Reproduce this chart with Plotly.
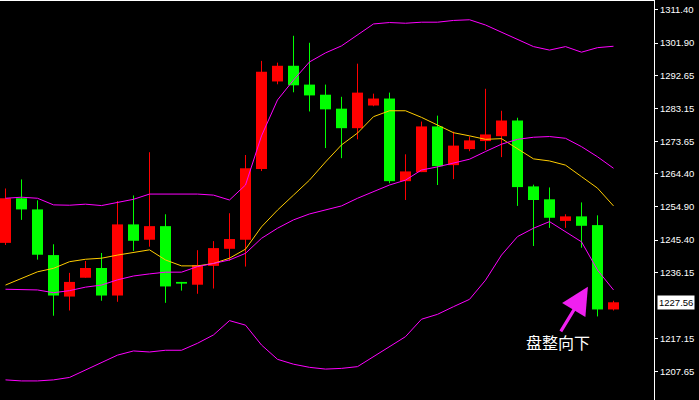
import plotly.graph_objects as go

# ---- data ----
opens = [1244.6, 1257.4, 1254.2, 1241.1, 1229.2, 1234.6, 1237.4, 1229.5, 1249.9, 1245.5,
         1249.4, 1233.4, 1232.6, 1238.0, 1242.9, 1245.5, 1265.8, 1290.9, 1295.4, 1290.0,
         1287.1, 1283.1, 1277.5, 1284.0, 1286.0, 1262.3, 1264.9, 1278.0, 1266.9, 1271.5,
         1273.8, 1275.2, 1279.7, 1260.8, 1257.1, 1250.9, 1252.2, 1249.7, 1225.5]
highs = [1260.2, 1262.8, 1256.8, 1244.2, 1236.0, 1239.4, 1241.7, 1256.6, 1258.2, 1270.6,
         1252.8, 1233.4, 1242.5, 1245.1, 1253.1, 1269.8, 1296.8, 1296.3, 1304.0, 1302.0,
         1290.0, 1286.5, 1296.0, 1287.4, 1287.7, 1270.0, 1279.4, 1281.1, 1276.5, 1275.1,
         1288.8, 1282.5, 1280.5, 1261.3, 1260.5, 1252.8, 1256.2, 1252.5, 1228.0]
lows = [1244.0, 1251.2, 1239.8, 1223.7, 1225.2, 1234.6, 1228.0, 1227.7, 1242.3, 1243.5,
        1227.4, 1230.9, 1230.0, 1231.5, 1239.5, 1237.8, 1265.2, 1290.1, 1287.8, 1282.3,
        1271.8, 1268.9, 1274.3, 1283.8, 1261.7, 1256.9, 1264.9, 1261.2, 1262.9, 1270.9,
        1271.2, 1269.2, 1255.2, 1243.7, 1248.9, 1248.9, 1243.2, 1223.5, 1225.2]
closes = [1257.4, 1254.2, 1241.2, 1229.5, 1233.4, 1237.4, 1229.5, 1249.9, 1245.2, 1249.4,
          1232.1, 1232.9, 1238.2, 1243.1, 1245.7, 1266.0, 1293.7, 1295.4, 1289.8, 1286.9,
          1282.9, 1277.5, 1287.7, 1286.0, 1262.3, 1265.1, 1278.0, 1266.6, 1272.5, 1274.0,
          1275.7, 1279.7, 1260.6, 1256.9, 1251.8, 1252.2, 1249.5, 1225.5, 1227.56]

boll_upper = [1257.4, 1257.7, 1257.4, 1255.5, 1255.4, 1255.7, 1255.3, 1256.1, 1257.1, 1258.6,
              1258.6, 1258.6, 1258.6, 1258.3, 1256.9, 1261.2, 1275.3, 1285.6, 1291.3, 1296.5,
              1299.1, 1301.1, 1304.2, 1307.4, 1307.8, 1307.6, 1307.9, 1307.9, 1308.4, 1308.6,
              1307.1, 1305.0, 1303.0, 1300.9, 1299.9, 1300.9, 1299.3, 1300.6, 1301.0]
boll_mid = [1231.3, 1231.3, 1231.1, 1230.3, 1230.9, 1231.9, 1232.5, 1234.0, 1235.1, 1235.7,
            1236.2, 1236.2, 1237.8, 1238.7, 1239.7, 1241.6, 1245.9, 1248.8, 1251.2, 1252.9,
            1254.0, 1255.2, 1257.4, 1259.3, 1261.2, 1262.6, 1265.5, 1266.4, 1267.6, 1268.6,
            1270.8, 1272.9, 1274.3, 1274.9, 1275.1, 1274.6, 1272.2, 1269.3, 1266.0]
boll_lower = [1205.3, 1205.0, 1205.0, 1205.3, 1206.0, 1208.1, 1210.1, 1212.4, 1213.6, 1213.3,
              1213.8, 1213.8, 1215.8, 1218.2, 1222.3, 1221.0, 1215.3, 1211.2, 1209.8, 1208.9,
              1208.4, 1208.6, 1209.1, 1211.9, 1214.8, 1217.7, 1222.7, 1224.1, 1226.3, 1228.4,
              1233.9, 1241.1, 1246.4, 1248.8, 1250.7, 1247.8, 1244.9, 1236.8, 1231.1]
ma_yellow = [1232.5, 1234.4, 1236.3, 1237.3, 1239.2, 1239.9, 1240.2, 1241.1, 1241.9, 1242.6,
             1239.7, 1238.0, 1238.0, 1238.7, 1240.2, 1242.8, 1249.2, 1254.0, 1258.3, 1262.6,
             1267.8, 1272.7, 1276.1, 1280.8, 1282.5, 1282.5, 1280.6, 1278.4, 1276.2, 1275.3,
             1274.3, 1274.5, 1271.7, 1268.7, 1268.1, 1266.9, 1263.6, 1260.3, 1255.2]

tick_vals = [1311.40, 1301.90, 1292.65, 1283.15, 1273.65, 1264.40, 1254.90,
             1245.40, 1236.15, 1217.15, 1207.65]
tick_text = ["1311.40", "1301.90", "1292.65", "1283.15", "1273.65", "1264.40", "1254.90",
             "1245.40", "1236.15", "1217.15", "1207.65"]
last_price = 1227.56
note_text = "盘整向下"

# ---- styling ----
UP = "#FF0000"     # rising candles (red)
DOWN = "#00FF00"   # falling candles (green)
MAGENTA = "#FF00FF"
YELLOW = "#FFCC00"

n = len(opens)
idx = list(range(n))

body_base = [min(o, c) for o, c in zip(opens, closes)]
body_h = [max(abs(c - o), 0.45) for o, c in zip(opens, closes)]
body_col = [UP if c >= o else DOWN for o, c in zip(opens, closes)]

fig = go.Figure()

# wicks
for col in (UP, DOWN):
    wx, wy = [], []
    for i in idx:
        if body_col[i] == col:
            wx += [i, i, None]
            wy += [lows[i], highs[i], None]
    fig.add_trace(go.Scatter(x=wx, y=wy, mode="lines",
                             line=dict(color=col, width=1), hoverinfo="skip",
                             showlegend=False))

# bodies
fig.add_trace(go.Bar(x=idx, y=body_h, base=body_base, width=0.6875,
                     marker=dict(color=body_col, line=dict(width=0)),
                     hoverinfo="skip", showlegend=False))

# indicator lines
for series, col in ((ma_yellow, YELLOW), (boll_upper, MAGENTA),
                    (boll_mid, MAGENTA), (boll_lower, MAGENTA)):
    fig.add_trace(go.Scatter(x=idx, y=series, mode="lines",
                             line=dict(color=col, width=1), hoverinfo="skip",
                             showlegend=False))

# annotation: arrow + text
arrow_tip_x, arrow_tip_y = 36.4, 1232.0
fig.add_annotation(x=arrow_tip_x, y=arrow_tip_y, ax=-28, ay=46, text="",
                   showarrow=True, arrowhead=2, arrowsize=1.7, arrowwidth=3.2,
                   arrowcolor="#F020F0")
fig.add_annotation(x=34.53, y=1216.2, text=note_text, showarrow=False,
                   font=dict(family="Noto Sans CJK SC", size=16, color="white"))

# current price label
fig.add_annotation(xref="paper", x=1, y=last_price, xanchor="left", xshift=3,
                   text=f"{last_price:.2f}", showarrow=False,
                   bgcolor="white", borderpad=1,
                   font=dict(family="Liberation Sans", size=9.5, color="black"))

fig.update_layout(
    width=699, height=400,
    margin=dict(l=0, r=45, t=1, b=0, autoexpand=False),
    paper_bgcolor="black", plot_bgcolor="black",
    barmode="overlay", hovermode=False, showlegend=False,
    xaxis=dict(range=[-0.34375, 40.53125], showgrid=False, zeroline=False,
               showticklabels=False, ticks="", side="top", automargin=False,
               showline=True, linecolor="white", linewidth=1, fixedrange=True),
    yaxis=dict(range=[1199.53, 1313.98], side="right", showgrid=False, zeroline=False,
               tickvals=tick_vals, ticktext=tick_text, automargin=False,
               ticks="outside", ticklen=3, tickcolor="white",
               tickfont=dict(family="Liberation Sans", size=9.5, color="white"),
               showline=True, linecolor="white", linewidth=1, fixedrange=True),
)

fig.write_html(
    "out.html",
    config={"displayModeBar": False, "staticPlot": True},
    post_script="document.body.style.margin='0';document.body.style.overflow='hidden';"
                "document.body.style.background='black';",
)
